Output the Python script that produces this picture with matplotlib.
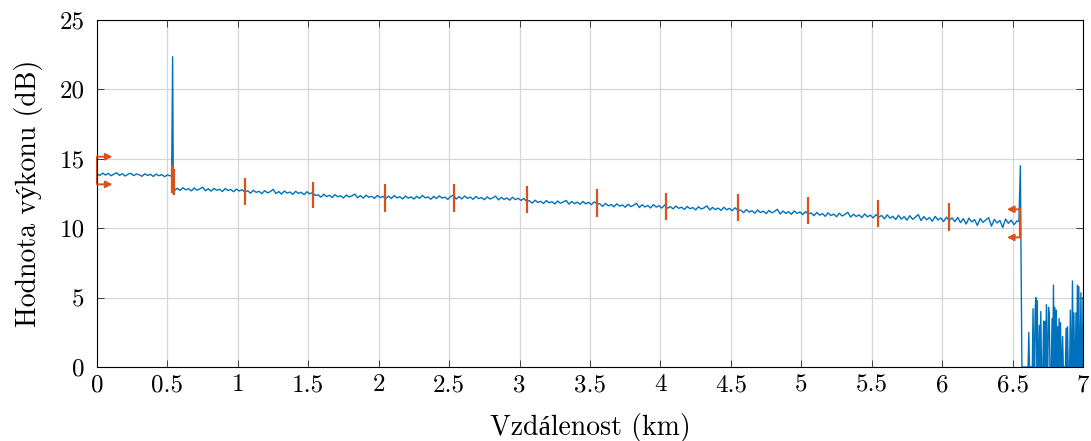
import numpy as np
import matplotlib
matplotlib.use('Agg')
import matplotlib.pyplot as plt
from matplotlib.ticker import FormatStrFormatter

plt.rcParams['font.family'] = ['cmr10', 'Liberation Serif']
plt.rcParams['axes.formatter.use_mathtext'] = True
plt.rcParams['axes.unicode_minus'] = False

blue = '#0072BD'
orange = '#D95319'

# zacatek trasy (krok 0.02 km)
start_db = [13.92, 13.80, 13.97, 13.83, 13.95, 13.78, 13.90, 13.99, 13.81, 13.93,
            13.76, 13.89, 13.96, 13.79, 13.91, 13.84, 13.74, 13.92, 13.80, 13.88,
            13.73, 13.90, 13.78, 13.86, 13.71, 13.84, 13.77]

# prvni udalost (konektor)
event1_km = [0.53, 0.537, 0.542, 0.548, 0.555]
event1_db = [13.78, 22.35, 12.45, 12.90, 12.75]

# trasa od 0.57 km (krok 0.02 km)
trace_db = [
    12.88, 12.72, 12.92, 12.76, 12.85, 12.69, 12.90, 12.74, 12.83, 12.96, 12.70, 12.84, 12.67,
    12.87, 12.73, 12.81, 12.64, 12.86, 12.71, 12.79, 12.63, 12.82, 12.68, 12.77, 12.60,
    12.70, 12.52, 12.74, 12.58, 12.66, 12.49, 12.71, 12.55, 12.63, 12.80, 12.50, 12.64, 12.46,
    12.68, 12.53, 12.61, 12.44, 12.66, 12.51, 12.59, 12.42, 12.63, 12.48, 12.56, 12.36,
    12.40, 12.24, 12.45, 12.28, 12.37, 12.21, 12.42, 12.26, 12.34, 12.18, 12.39, 12.25, 12.33,
    12.46, 12.20, 12.35, 12.17, 12.38, 12.23, 12.30, 12.15, 12.36, 12.21, 12.29, 12.14,
    12.31, 12.14, 12.35, 12.18, 12.27, 12.11, 12.32, 12.16, 12.26, 12.10, 12.30, 12.15, 12.36,
    12.19, 12.25, 12.09, 12.29, 12.14, 12.33, 12.17, 12.24, 12.08, 12.28, 12.38, 12.10,
    12.28, 12.11, 12.32, 12.15, 12.24, 12.08, 12.29, 12.13, 12.21, 12.05, 12.26, 12.10, 12.19,
    12.31, 12.04, 12.22, 12.07, 12.18, 12.02, 12.23, 12.06, 12.16, 12.00, 12.14, 11.94,
    11.98, 11.81, 12.02, 11.85, 11.94, 11.78, 11.99, 11.83, 11.91, 11.75, 11.96, 11.80, 11.89,
    12.00, 11.74, 11.92, 11.77, 11.88, 11.72, 11.93, 11.76, 11.86, 11.70, 11.90, 11.78,
    11.75, 11.57, 11.79, 11.61, 11.71, 11.54, 11.76, 11.59, 11.68, 11.51, 11.73, 11.56, 11.66,
    11.80, 11.49, 11.69, 11.53, 11.64, 11.46, 11.70, 11.52, 11.62, 11.45, 11.67, 11.44,
    11.56, 11.39, 11.60, 11.43, 11.52, 11.35, 11.57, 11.40, 11.49, 11.32, 11.55, 11.38, 11.47,
    11.61, 11.31, 11.50, 11.34, 11.45, 11.28, 11.51, 11.33, 11.43, 11.26, 11.47, 11.30,
    11.30, 11.12, 11.34, 11.16, 11.26, 11.08, 11.31, 11.13, 11.23, 11.05, 11.28, 11.11, 11.21,
    11.36, 11.03, 11.24, 11.07, 11.19, 11.00, 11.25, 11.06, 11.17, 10.98, 11.20, 11.02,
    11.10, 10.90, 11.14, 10.94, 11.05, 10.86, 11.11, 10.91, 11.02, 10.83, 11.08, 10.88, 10.99,
    11.15, 10.80, 11.01, 10.84, 10.96, 10.76, 11.03, 10.82, 10.94, 10.74, 10.98, 10.80,
    10.92, 10.68, 10.96, 10.72, 10.86, 10.62, 10.93, 10.66, 10.83, 10.58, 10.90, 10.64, 10.80,
    10.98, 10.55, 10.84, 10.61, 10.77, 10.50, 10.85, 10.59, 10.74, 10.48, 10.80, 10.56,
    10.74, 10.48, 10.78, 10.40, 10.69, 10.30, 10.72, 10.45, 10.62, 10.20, 10.70, 10.42, 10.60,
    10.76, 10.15, 10.64, 10.38, 10.56, 10.05, 10.66, 10.35, 10.58, 10.25, 10.52]

# konec vlakna (odraz)
event2_km = [6.545, 6.555, 6.563, 6.566]
event2_db = [10.48, 14.5, 4.4, 0.0]

# sum za koncem vlakna (krok 0.005 km od 6.57)
noise_db = [0, 0, 0, 0, 0, 0, 0, 0, 0, 2.5,
            0, 0, 0, 0, 0, 4.2, 0, 0, 4.1, 5.0,
            0, 4.8, 0, 0, 3.0, 0, 4.0, 0, 0, 0,
            3.3, 0, 3.3, 0, 4.5, 0, 0, 4.3, 3.8, 0,
            0, 0, 3.5, 0, 5.9, 0, 4.3, 0, 4.1, 0,
            2.9, 0, 3.5, 0, 3.2, 0, 0, 2.2, 0, 0,
            0, 0, 2.8, 0, 2.9, 0, 0, 0, 4.1, 0,
            0, 6.2, 0, 3.9, 0, 0, 3.9, 0, 5.9, 0,
            5.8, 0, 0, 5.35, 0, 0, 5.0]

# znacky udalosti
mark_km = [0.532, 0.55, 1.05, 1.535, 2.044, 2.534, 3.054, 3.553, 4.04, 4.549, 5.046, 5.543, 6.05]
mark_lo = [12.55, 12.40, 11.67, 11.43, 11.19, 11.19, 11.12, 10.83, 10.59, 10.52, 10.28, 10.11, 9.82]
mark_hi = [14.55, 14.30, 13.60, 13.35, 13.16, 13.18, 13.06, 12.82, 12.51, 12.46, 12.22, 12.03, 11.79]

# sipky (zacatek a konec)
arrow_left_km, arrow_left_tip = 0.0, 0.11
arrow_left_db = [15.15, 13.16]
arrow_right_km, arrow_right_tip = 6.553, 6.46
arrow_right_db = [11.36, 9.34]

start_km = 0.02 * np.arange(len(start_db))
trace_km = 0.57 + 0.02 * np.arange(len(trace_db))
noise_km = 6.57 + 0.005 * np.arange(len(noise_db))

x = np.concatenate([start_km, event1_km, trace_km, event2_km, noise_km])
y = np.concatenate([start_db, event1_db, trace_db, event2_db, noise_db])

fig = plt.figure(figsize=(10.91, 4.41), dpi=100)
ax = fig.add_axes([0.0889, 0.1678, 0.9038, 0.7868])

ax.plot(x, y, color=blue, linewidth=1.0)

for km, lo, hi in zip(mark_km, mark_lo, mark_hi):
    ax.plot([km, km], [lo, hi], color=orange, linewidth=1.6, solid_capstyle='butt')

ax.plot([arrow_left_km, arrow_left_km], arrow_left_db, color=orange, linewidth=1.4, clip_on=False)
ax.plot([arrow_right_km, arrow_right_km], arrow_right_db, color=orange, linewidth=1.6)
for yy in arrow_left_db:
    ax.annotate('', xy=(arrow_left_tip, yy), xytext=(arrow_left_km, yy),
                arrowprops=dict(arrowstyle='-|>', color=orange, lw=1.4,
                                mutation_scale=10, shrinkA=0, shrinkB=0),
                annotation_clip=False)
for yy in arrow_right_db:
    ax.annotate('', xy=(arrow_right_tip, yy), xytext=(arrow_right_km, yy),
                arrowprops=dict(arrowstyle='-|>', color=orange, lw=1.4,
                                mutation_scale=10, shrinkA=0, shrinkB=0))

ax.set_xlim(0, 7)
ax.set_ylim(0, 25)
ax.set_xticks(np.arange(0, 7.01, 0.5))
ax.set_yticks(np.arange(0, 26, 5))
ax.xaxis.set_major_formatter(FormatStrFormatter('%g'))
ax.yaxis.set_major_formatter(FormatStrFormatter('%g'))
ax.tick_params(direction='in', top=True, right=True, labelsize=18,
               length=5, width=0.6, color='#262626')
ax.tick_params(axis='x', pad=5)
ax.tick_params(axis='y', pad=9)
ax.grid(True, color='#d6d6d6', linewidth=0.9)
ax.set_axisbelow(True)
for s in ax.spines.values():
    s.set_linewidth(0.8)

ax.set_xlabel('Vzdálenost (km)', fontsize=20, labelpad=12)
ax.set_ylabel('Hodnota výkonu (dB)', fontsize=20, labelpad=12)

fig.savefig('out.png', dpi=100)
